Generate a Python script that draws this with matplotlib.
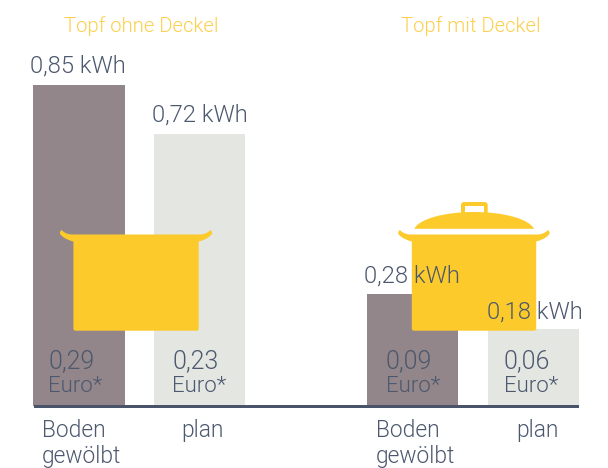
import matplotlib
matplotlib.use("Agg")
import matplotlib.pyplot as plt
from matplotlib.path import Path
from matplotlib.patches import PathPatch, Rectangle

plt.rcParams['font.family'] = ['Roboto', 'Liberation Sans', 'DejaVu Sans']
plt.rcParams['font.weight'] = 300

# Data
categories = ["Boden\ngewölbt", "plan", "Boden\ngewölbt", "plan"]
bar_heights = [0.85, 0.72, 0.297, 0.204]   # drawn height
kwh_labels = ["0,85 kWh", "0,72 kWh", "0,28 kWh", "0,18 kWh"]
euro_values = ["0,29", "0,23", "0,09", "0,06"]
group_titles = ["Topf ohne Deckel", "Topf mit Deckel"]

# Style
W, H = 608, 468
BASE, TOP85 = 406.0, 85.0
bar_left = [33, 154, 366.7, 488]
bar_width = [92.3, 91, 91.3, 91]
bar_colors = ["#93868a", "#e4e6e2", "#93868a", "#e4e6e2"]
YELLOW = "#fdca2b"
TITLE = "#fdcf4c"
INK = "#4c586e"
AXIS = "#49536a"

fig = plt.figure(figsize=(W / 100, H / 100), dpi=100)
scale = (BASE - TOP85) / 0.85
ax = fig.add_axes([0, 0, 1, 1])
ax.set_xlim(0, W)
ax.set_ylim(-(H - BASE) / scale, BASE / scale)
ax.axis("off")
ax.bar(bar_left, bar_heights, width=bar_width, align="edge", color=bar_colors, linewidth=0, zorder=1)

# overlay in pixel coordinates for icons and text
ov = fig.add_axes([0, 0, 1, 1])
ov.set_xlim(0, W)
ov.set_ylim(H, 0)
ov.axis("off")
ov.patch.set_alpha(0)

ov.add_patch(Rectangle((33.5, 405), 545, 3, color=AXIS, lw=0, zorder=2))


def pot(l, r, top, bot, tl, tr):
    M, L, C, Z = Path.MOVETO, Path.LINETO, Path.CURVE4, Path.CLOSEPOLY
    v = [(l, top), (r, top),
         (r + 5, top), (tr - 5, top - 1), (tr - 1.5, top - 4.5),
         (tr, top - 3), (tr + 1, top - 1), (tr - 1, top + 0.5),
         (tr - 4, top + 4), (r + 4, top + 6), (r, top + 7),
         (r, bot - 2), (r, bot - 1), (r - 1, bot), (r - 2, bot),
         (l + 2, bot), (l + 1, bot), (l, bot - 1), (l, bot - 2),
         (l, top + 7), (l - 4, top + 6), (tl + 4, top + 4), (tl + 1, top + 0.5),
         (tl - 1, top - 1), (tl, top - 3), (tl + 1.5, top - 4.5),
         (tl + 5, top - 1), (l - 5, top), (l, top), (l, top)]
    c = [M, L, C, C, C, C, C, C, C, C, C, L, C, C, C, L, C, C, C, L, C, C, C, C, C, C, C, C, C, Z]
    ov.add_patch(PathPatch(Path(v, c), fc=YELLOW, ec="none", lw=0, zorder=3))


pot(73.4, 198.7, 234.5, 330.7, 60, 212)
pot(411.8, 536.2, 234.5, 330.7, 398.3, 549.5)

# lid and knob
M, L, C, Z = Path.MOVETO, Path.LINETO, Path.CURVE4, Path.CLOSEPOLY
lid_v = [(414.3, 228.8), (419, 219), (444, 212), (474, 212), (504, 212), (529, 219), (534, 228.8), (414.3, 228.8), (414.3, 228.8)]
lid_c = [M, C, C, C, C, C, C, L, Z]
ov.add_patch(PathPatch(Path(lid_v, lid_c), fc=YELLOW, lw=0, zorder=3))
knob = [(461, 213), (461, 204), (463, 202), (485.7, 202), (487.7, 204), (487.7, 213), (484, 213), (484, 206), (465, 206), (465, 213), (461, 213)]
knob_c = [M, L, L, L, L, L, L, L, L, L, Z]
ov.add_patch(PathPatch(Path(knob, knob_c), fc=YELLOW, lw=0, zorder=3))


def label(x, y, s, color=INK, size=17.1):
    ov.text(x, y, s, color=color, fontsize=size, ha="left", va="baseline", zorder=5)


title_x = [64, 401]
for x, s in zip(title_x, group_titles):
    label(x, 31.7, s, TITLE, 14.6)

kwh_x = [30, 152.5, 364.5, 487]
kwh_y = [73, 122, 282.7, 318.7]
for x, y, s in zip(kwh_x, kwh_y, kwh_labels):
    label(x, y, s)

euro_x = [48.5, 172.5, 385.5, 503.5]
for x, s in zip(euro_x, euro_values):
    label(x, 367.7, s, size=18)
    label(x, 391.7, "Euro*", size=16)

cat_x = [42, 181.5, 376.2, 516.2]
for x, s in zip(cat_x, categories):
    parts = s.split("\n")
    label(x, 436.7, parts[0], size=16.4)
    if len(parts) > 1:
        label(x, 463, parts[1], size=16.4)

fig.savefig("out.png", dpi=100, facecolor="white")
